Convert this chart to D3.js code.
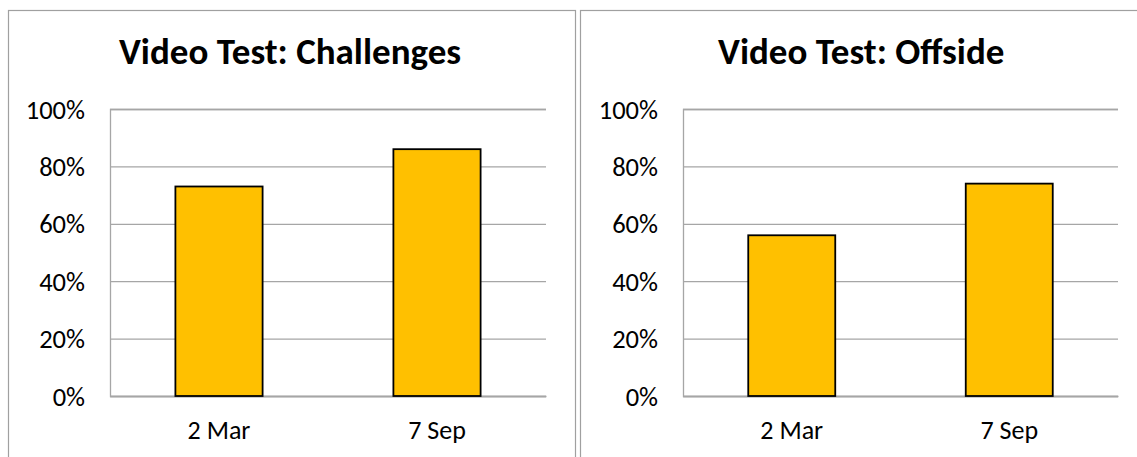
<!DOCTYPE html>
<html>
<head>
<meta charset="utf-8">
<script src="https://cdn.jsdelivr.net/npm/d3@7"></script>
<style>
  body { margin: 0; background: #fff; }
  svg text { font-family: Calibri, Carlito, "Open Sans", sans-serif; fill: #000; }
</style>
</head>
<body>
<script>
const titles = ["Video Test: Challenges", "Video Test: Offside"]
const dates = ["2 Mar", "7 Sep"]
const challenges = [0.73, 0.86]
const offside = [0.56, 0.74]
const yTicks = [0, 0.2, 0.4, 0.6, 0.8, 1]

const seriesList = [challenges, offside]

const W = 1137, H = 457

const svg = d3.select('body')
    .append('svg')
    .attr('width', W)
    .attr('height', H)

// panel frames: left edge, right edge
const panels = [
    { x0: 8.5, x1: 575.5, plotL: 110, plotR: 546 },
    { x0: 580.5, x1: 1146, plotL: 683, plotR: 1118 }
]

const plotTop = 109, plotBottom = 396

const y = d3.scaleLinear().domain([0, 1]).range([plotBottom, plotTop])

panels.forEach((p, i) => {
    const g = svg.append('g')

    g.append('rect')
        .attr('x', p.x0)
        .attr('y', 10.5)
        .attr('width', p.x1 - p.x0)
        .attr('height', 480)
        .attr('fill', '#fff')
        .attr('stroke', '#a0a0a0')
        .attr('stroke-width', 1.2)

    g.append('text')
        .attr('x', (p.x0 + p.x1) / 2 - 2)
        .attr('y', 64)
        .attr('text-anchor', 'middle')
        .style('font-size', '37px')
        .style('font-weight', 'bold')
        .text(titles[i])

    const x = d3.scaleBand()
        .domain(dates)
        .range([p.plotL, p.plotR])
        .paddingInner(0.6)
        .paddingOuter(0.3)

    const yAxis = d3.axisLeft(y)
        .tickValues(yTicks)
        .tickFormat(d3.format('.0%'))
        .tickSize(-(p.plotR - p.plotL))
        .tickPadding(25)

    const ya = g.append('g')
        .attr('transform', `translate(${p.plotL}, 0)`)
        .call(yAxis)
    ya.select('.domain').attr('stroke', '#a6a6a6').attr('stroke-width', 1.3)
    ya.selectAll('.tick line').attr('stroke', '#a6a6a6').attr('stroke-width', 1.3)
    ya.selectAll('.tick text').style('font-size', '26.5px').attr('dy', '0.34em')

    const xAxis = d3.axisBottom(x).tickSize(0).tickPadding(24.5)
    const xa = g.append('g')
        .attr('transform', `translate(0, ${plotBottom})`)
        .call(xAxis)
    xa.select('.domain').attr('stroke', '#a6a6a6').attr('stroke-width', 1.3)
    xa.selectAll('.tick text').style('font-size', '26px')

    g.selectAll('rect.bar')
        .data(seriesList[i])
        .enter()
        .append('rect')
        .attr('class', 'bar')
        .attr('x', (d, j) => x(dates[j]))
        .attr('y', d => y(d))
        .attr('width', x.bandwidth())
        .attr('height', d => plotBottom - y(d))
        .attr('fill', '#ffc000')
        .attr('stroke', '#000')
        .attr('stroke-width', 1.8)
})
</script>
</body>
</html>
